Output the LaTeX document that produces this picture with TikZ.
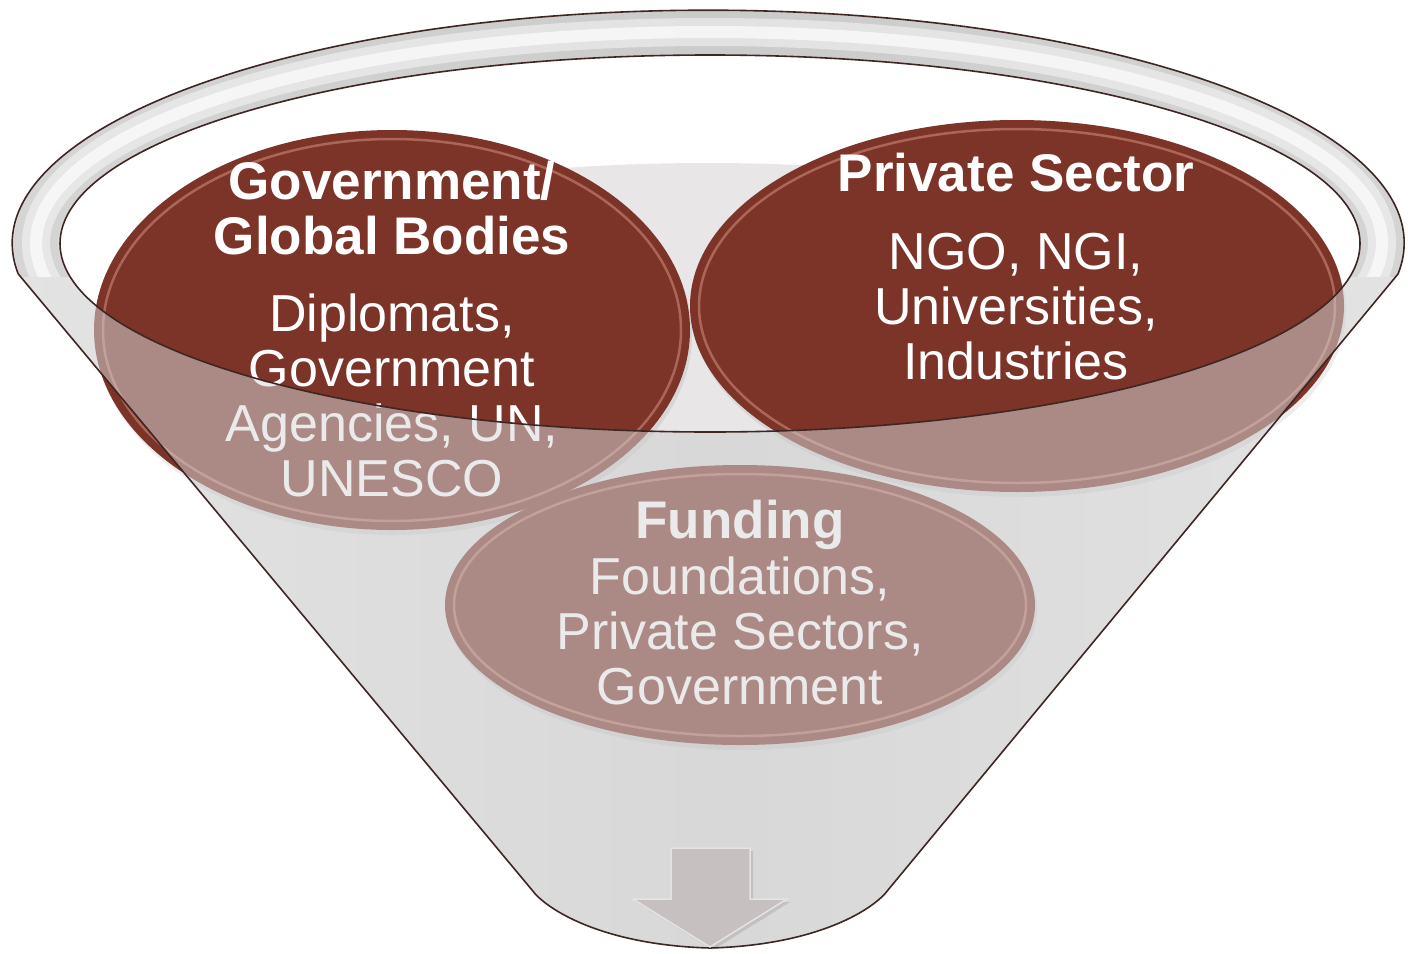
\documentclass[tikz,border=0pt]{standalone}
\usepackage{fontspec}
\setmainfont{Liberation Sans}
\usetikzlibrary{shapes.geometric}
\definecolor{redfill}{HTML}{7C3429}
\definecolor{bevelc}{HTML}{C8806F}
\definecolor{rimline}{HTML}{3E2622}
\definecolor{bodymid}{HTML}{D9D9D9}
\definecolor{bodyedge}{HTML}{F0F0F0}
\definecolor{veil}{HTML}{D8D8D8}
\definecolor{inside}{HTML}{E8E6E6}
\definecolor{arrowgray}{HTML}{C6C0C0}
\begin{document}
\begin{tikzpicture}[x=1pt,y=-1pt,
  redball/.style={ellipse, fill=redfill, inner sep=0pt},
  bevelring/.style={draw=bevelc, line width=2.5, draw opacity=.65},
  ballshadow/.style={fill=black, fill opacity=.07},
  titletext/.style={font={\fontsize{53}{56}\selectfont\bfseries}, text=white, anchor=base, inner sep=0pt},
  bodytext/.style={font={\fontsize{52}{55}\selectfont}, text=white, anchor=base, inner sep=0pt},
  rim/.style={draw=rimline, line width=1.6},
]
\def\bodypath{(1398,274) arc[start angle=7.6, end angle=-187.6, x radius=696, y radius=233] -- (532,890) .. controls (545,908) and (600,945) .. (710,948) .. controls (820,945) and (875,908) .. (888,890) -- cycle}
\def\innerE{(710,243.5) ellipse [x radius=650, y radius=188.5]}
\useasboundingbox (0,0) rectangle (1408,953);
\fill[white] (0,0) rectangle (1408,953);
% funnel back
\shade[left color=bodyedge, right color=bodyedge, middle color=bodymid] \bodypath;
% opening
\fill[white] \innerE;
\begin{scope}
  \clip \innerE;
  \fill[inside] (707,352) ellipse [x radius=620, y radius=189];
\end{scope}
% shadows
\fill[ballshadow] (394,335) ellipse [x radius=298, y radius=200];
\fill[ballshadow] (1019,311) ellipse [x radius=327, y radius=186];
\fill[ballshadow] (742,610) ellipse [x radius=295, y radius=140];
% red ellipses
\node[redball, minimum width=596, minimum height=400] (gov) at (392,330) {};
\draw[bevelring] (gov.center) ellipse [x radius=289, y radius=191];
\node[redball, minimum width=654, minimum height=372] (priv) at (1017,306) {};
\draw[bevelring] (priv.center) ellipse [x radius=318, y radius=177];
\node[redball, minimum width=590, minimum height=280] (fund) at (740,605) {};
\draw[bevelring] (fund.center) ellipse [x radius=286, y radius=131];
% texts
\node[titletext] (g1) at (392,199) {Government/};
\node[titletext] (g2) at (392,254) {Global Bodies};
\node[bodytext] (g3) at (392,331) {Diplomats,};
\node[bodytext] (g4) at (392,386) {Government};
\node[bodytext] (g5) at (392,441) {Agencies, UN,};
\node[bodytext] (g6) at (392,496) {UNESCO};
\node[titletext] (p1) at (1016,191) {Private Sector};
\node[bodytext] (p2) at (1016,269) {NGO, NGI,};
\node[bodytext] (p3) at (1016,324) {Universities,};
\node[bodytext] (p4) at (1016,379) {Industries};
\node[titletext] (f1) at (740,538) {Funding};
\node[bodytext] (f2) at (740,594) {Foundations,};
\node[bodytext] (f3) at (740,649) {Private Sectors,};
\node[bodytext] (f4) at (740,704) {Government};
% funnel front veil
\fill[veil, fill opacity=.52, even odd rule] \bodypath \innerE;
% rim band highlight (back part of the rim only)
\begin{scope}[even odd rule]
  \clip \bodypath;
  \clip (0,0) rectangle (1408,953) \innerE;
  \clip (0,0) rectangle (1408,276);
  \draw[black, line width=44, opacity=.06] (709,243) ellipse [x radius=673, y radius=211];
  \draw[white, line width=28, opacity=.45] (709,243) ellipse [x radius=673, y radius=211];
  \draw[white, line width=12, opacity=.65] (709,243) ellipse [x radius=673, y radius=211];
\end{scope}
% outlines
\draw[rim] \bodypath;
\draw[rim] \innerE;
% arrow
\fill[black, opacity=.10] (674,851) -- (753,851) -- (753,902) -- (790,902) -- (713,950) -- (636,902) -- (674,902) -- cycle;
\fill[arrowgray, draw=white!55!arrowgray, line width=1.5] (671,848) -- (750,848) -- (750,899) -- (787,899) -- (710,947) -- (633,899) -- (671,899) -- cycle;
\end{tikzpicture}
\end{document}
